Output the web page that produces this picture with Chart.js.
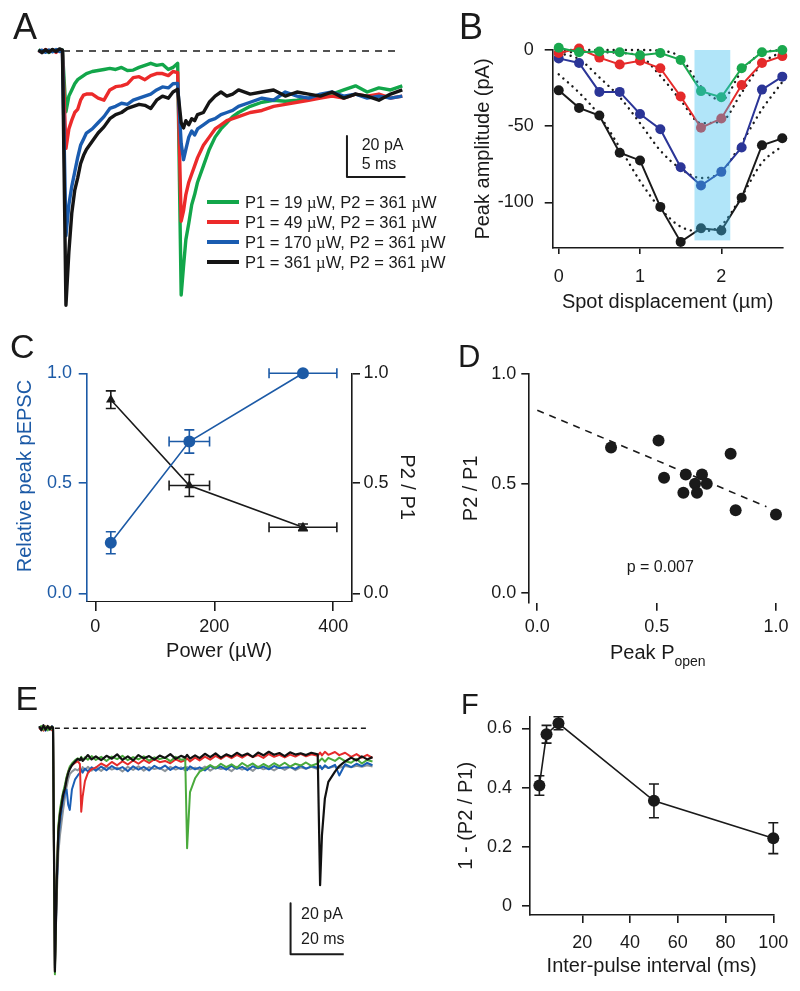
<!DOCTYPE html>
<html>
<head>
<meta charset="utf-8">
<script src="https://cdn.jsdelivr.net/npm/chart.js@4.4.1/dist/chart.umd.min.js"></script>
<style>
  html, body { margin: 0; padding: 0; background: #fff; }
  #page { position: relative; width: 800px; height: 991px; overflow: hidden;
          font-family: 'Liberation Sans', Arial, Helvetica, sans-serif; color: #1a1a1a; }
  #page canvas { position: absolute; left: 0; top: 0; }
  .txt { position: absolute; white-space: nowrap; line-height: 1; }
  .leg { position: absolute; left: 207px; width: 260px; height: 20px; }
  .leg > i { position: absolute; left: 0; top: 8.2px; width: 32px; height: 3.6px; }
  .leg > span { position: absolute; left: 38px; top: 1.9px; font-size: 16.5px; line-height: 1; white-space: nowrap; }
  .mu { font-family: 'Liberation Serif', 'Times New Roman', serif; }
</style>
</head>
<body>
<div id="page">
  <canvas id="cA" width="800" height="991"></canvas>
  <canvas id="cB" width="800" height="991"></canvas>
  <canvas id="cC" width="800" height="991"></canvas>
  <canvas id="cD" width="800" height="991"></canvas>
  <canvas id="cE" width="800" height="991"></canvas>
  <canvas id="cF" width="800" height="991"></canvas>

  <!-- panel letters -->
  <div class="txt" style="left:13px;top:8.6px;font-size:36px">A</div>
  <div class="txt" style="left:459px;top:8.6px;font-size:36px">B</div>
  <div class="txt" style="left:10px;top:329px;font-size:34px">C</div>
  <div class="txt" style="left:458px;top:341px;font-size:31px">D</div>
  <div class="txt" style="left:15.6px;top:680.6px;font-size:34px">E</div>
  <div class="txt" style="left:461px;top:689.5px;font-size:29px">F</div>

  <!-- A legend + scale bar text -->
  <div class="leg" style="top:192.3px"><i style="background:#12a64a"></i><span>P1 = 19 <span class="mu">µ</span>W, P2 = 361 <span class="mu">µ</span>W</span></div>
  <div class="leg" style="top:212.3px"><i style="background:#ec2a2a"></i><span>P1 = 49 <span class="mu">µ</span>W, P2 = 361 <span class="mu">µ</span>W</span></div>
  <div class="leg" style="top:232.3px"><i style="background:#1a5cb0"></i><span>P1 = 170 <span class="mu">µ</span>W, P2 = 361 <span class="mu">µ</span>W</span></div>
  <div class="leg" style="top:252.3px"><i style="background:#151515"></i><span>P1 = 361 <span class="mu">µ</span>W, P2 = 361 <span class="mu">µ</span>W</span></div>
  <div class="txt" style="left:361.7px;top:137.2px;font-size:16px">20 pA</div>
  <div class="txt" style="left:361.7px;top:155.5px;font-size:16px">5 ms</div>

  <!-- D annotations -->
  <div class="txt" style="left:626.7px;top:558.9px;font-size:16px">p = 0.007</div>
  <div class="txt" style="left:610px;top:641.9px;font-size:20px">Peak P<span style="font-size:14px;position:relative;top:7px">open</span></div>

  <!-- E scale bar text -->
  <div class="txt" style="left:301px;top:906.2px;font-size:16px">20 pA</div>
  <div class="txt" style="left:301px;top:930.5px;font-size:16px">20 ms</div>
</div>

<script>
/* ═══════════════════════════════════════════
   DATA
═══════════════════════════════════════════ */
// A: paired-pulse traces (time ms, current pA)
const aT = [-2.1, -1.8, -1.5, -1.2, -0.9, -0.6, -0.3, -0.05,
  0.25, 0.5, 0.75, 1, 1.25, 1.5, 1.75,
  2, 2.5, 3, 3.5, 4, 4.5, 5, 5.5, 6, 6.5, 7, 7.5, 8, 8.5, 9,
  9.4, 9.8,
  10.1, 10.3, 10.5, 10.75, 11, 11.25, 11.5,
  12, 12.5, 13, 13.5, 14, 14.5, 15,
  16, 17, 18, 19, 20, 21, 22, 23, 24, 25, 26, 27, 28, 29];
const aBlack = [0.5, -0.8, 0.6, -0.5, 0.8, -0.3, 1.0, 0.5,
  -124, -98, -79, -68, -62, -55, -51,
  -48, -44, -40, -37, -33, -31, -30, -28, -27, -26, -26.5, -28, -24, -22, -23,
  -20, -18.7,
  -35, -37.5, -34, -36, -33, -34, -31,
  -30, -25, -22, -20, -22, -21, -19,
  -21, -20, -19, -22, -20, -21, -22, -20, -23, -21, -22, -24, -21, -19];
const aBlue = [-0.3, 0.4, -0.6, 0.5, -0.4, 0.7, -0.2, 0.3,
  -90, -75, -66, -59, -52, -46, -43,
  -40, -38, -35, -32, -28, -27, -25.5, -26, -24, -23, -22, -21, -19, -17.5, -18,
  -16, -15.8,
  -45, -53, -48, -42, -39, -41, -38,
  -36, -34, -33, -31, -30, -29, -27,
  -25, -23, -24, -20, -22, -23, -21, -20, -22, -21, -23, -22, -23, -22];
const aRed = [0.2, -0.5, 0.7, -0.3, 0.4, -0.7, 0.6, 0.1,
  -47.5, -38, -33.7, -30, -28.5, -24, -21.5,
  -21, -21, -23, -24, -19, -17.4, -17, -16, -13, -12.5, -14, -12, -11, -11, -12,
  -10, -10.5,
  -83, -78, -70, -64, -60, -56, -52,
  -46, -42, -38, -36, -34, -33, -32,
  -30, -29, -27, -26, -25, -24, -23, -22, -23, -21, -22, -21, -23, -22];
const aGreen = [0.6, -0.4, 0.3, -0.7, 0.5, -0.2, 0.8, 0.4,
  -29.6, -22, -19, -16, -14, -13, -12,
  -11, -10, -9.5, -9, -8.5, -9, -8, -9.5, -9.3, -8, -7, -6, -7, -6.5, -9,
  -8, -6,
  -119, -105, -92, -84, -75, -70, -64,
  -56, -48, -42, -38, -35, -32, -30,
  -27, -25, -24, -24.5, -24, -23, -22, -21, -19, -17, -20, -18, -19, -17];
const aZeroT = [0, 28.5];
const aZeroI = [0, 0];
const aBarT = [24.27, 24.27, 29.27];     // 5 ms
const aBarI = [-41.5, -61.5, -61.5];     // 20 pA

// B: peak amplitude vs spot displacement
const bX = [0, 0.25, 0.5, 0.75, 1, 1.25, 1.5, 1.75, 2, 2.25, 2.5, 2.75];
const bGreen = [1.5, -1.5, -1, -1.5, -3.5, -2, -6.5, -27, -31, -12, -1.5, 0];
const bRed = [-2, 1, -5, -9.5, -7, -12, -30.5, -51, -45, -23, -8.5, -4];
const bBlue = [-5.5, -8.5, -27.5, -27.5, -42, -52, -77, -89, -80, -64, -26, -17.5];
const bBlack = [-26.5, -38, -43, -67.5, -72.5, -103, -126, -117, -118.5, -97, -62.5, -58];
const bFitGreen = [0, 0, 0, 0, 0, -0.5, -5, -24, -33, -14, -2, 0];
const bFitRed = [-1, -1.5, -1.5, -2, -4, -17, -33, -48, -47, -28, -9, -1];
const bFitBlue = [-2, -6, -18, -31, -48, -66, -78, -84, -80, -61, -39, -21];
const bFitBlack = [-16, -28, -43, -64, -86, -104, -116, -119, -115, -96, -74, -63];
const bShadeX = [1.67, 2.11];
const bShadeY = [0, -125];

// C: relative peak and P2/P1 vs power
const cPower = [26, 158, 349];
const cPowerErr = [0, 34, 57];
const cRel = [0.23, 0.69, 1.0];
const cRelErr = [0.05, 0.053, 0];
const cPPR = [0.88, 0.49, 0.30];
const cPPRErr = [0.04, 0.05, 0.015];

// D: P2/P1 vs peak Popen
const dPopen = [0.309, 0.508, 0.810, 0.531, 0.622, 0.690, 0.661, 0.710, 0.612, 0.669, 0.831, 1.0];
const dPPR = [0.665, 0.697, 0.636, 0.527, 0.542, 0.542, 0.50, 0.50, 0.459, 0.459, 0.379, 0.359];
const dFitX = [0, 0.96];
const dFitY = [0.835, 0.395];

// E: varying inter-pulse interval traces
const eT = [-5.3, -4.5, -3.7, -2.9, -2.1, -1.3, -0.5, -0.1,
  0.6, 1.3, 1.9, 2.5, 3.1, 3.7, 4.4, 5, 5.6, 6.2, 7, 8.2, 9.2, 10, 10.5, 11, 11.9, 13, 14.4,
  16, 18, 20, 22, 24, 26, 28, 30, 32, 34, 36, 38, 40, 42, 44, 46, 48,
  49.6, 50.3, 51.4, 53.3,
  55, 57, 59, 61, 63, 65, 67, 69, 71, 73, 75, 77, 79, 81, 83, 85, 87, 89, 91, 93, 95, 97,
  99.4, 100.3, 101, 102.1, 103.4, 105.9, 107.5, 109.7,
  112, 114, 116, 118, 120];
const eBlack = [0.8, -0.8, 1.2, -0.6, 0.9, -0.4, 0.7, 0.2,
  -95.4, -60, -40.5, -34, -30, -26, -23.5, -20, -17.6, -16, -14.5, -13, -12, -12.5, -11.5, -12.8, -11.8, -10.5, -12.2,
  -11, -12.5, -10.8, -11.9, -10.2, -12.4, -11, -12.6, -10.5, -11.8, -10.9, -12.3, -10.7, -11.6, -10.1, -12, -10.8,
  -11.5, -10.4, -11.9, -10.6,
  -11.7, -10, -11.3, -9.8, -11.5, -10.2, -11.1, -9.6, -10.8, -9.9, -11.2, -9.5, -10.6, -9.2, -10.4, -9.7, -10.9, -9.4, -10.3, -9.8, -10.5, -9.6,
  -10.2, -61.5, -42, -27.5, -21, -17, -14.8, -13,
  -11.5, -12.6, -11, -12.2, -11.3];
const eGreen = [0.3, 0.9, -0.5, 0.7, -0.8, 0.5, -0.3, 0.4,
  -96.5, -58, -38, -32, -28, -25, -22, -19, -17, -15, -13.8, -12.5, -11.8, -12.2, -11.2, -12.6, -11.4, -12.3, -10.9,
  -12.4, -11.2, -12.8, -11.1, -12.1, -10.8, -12.5, -11.3, -12.2, -11, -12.7, -11.4, -12.1, -11.5, -12.9, -11.2, -12.3,
  -12, -47, -25, -19.6,
  -17, -15.8, -14.4, -15.6, -13.9, -15.2, -14.1, -15.5, -13.6, -14.9, -13.8, -15.3, -14, -15.1, -13.7, -14.8, -13.5, -15, -13.9, -14.6, -13.4, -14.7,
  -13.8, -12.5, -11.8, -13.1, -11.6, -12.8, -11.5, -12.9,
  -13.5, -12, -13.8, -12.4, -13];
const eRed = [-0.4, 0.6, -0.9, 0.8, -0.3, 0.6, -0.7, 0.1,
  -95, -59, -39, -33, -29, -25.5, -23, -19.5, -17, -15.5, -14.5, -13.5, -13, -14, -32.7, -27, -20.7, -17.5, -16,
  -15.4, -13.8, -14.9, -13.2, -14.5, -12.9, -14.2, -12.6, -13.9, -12.4, -13.6, -12.1, -13.3, -12.8, -13.7, -12.2, -13.1,
  -12.5, -11.8, -13, -11.5,
  -12.6, -11.1, -12.3, -10.8, -12, -10.6, -11.7, -10.4, -11.5, -10.2, -11.3, -10.5, -11.6, -10.1, -11.2, -10.4, -11.4, -10.3, -11.1, -10, -11, -10.2,
  -10.8, -9.5, -10.6, -9.2, -10.4, -9.3, -10.5, -9.6,
  -11.2, -10.1, -11.5, -10.4, -11.6];
const eBlue = [0.5, -0.6, 0.4, -0.9, 0.7, -0.2, 0.8, -0.3,
  -94, -62, -44, -37, -32, -28, -25, -24, -30, -32, -24, -20, -18.5, -17.5, -16.2, -17.4, -15.8, -16.9, -15.3,
  -16.6, -15, -16.4, -14.8, -16.1, -15.2, -16.8, -14.9, -16.2, -15.1, -16.5, -14.7, -15.9, -14.6, -16.3, -15, -16,
  -15.2, -16.4, -14.9, -16.1,
  -15.3, -16.5, -14.8, -15.8, -15, -16.2, -14.7, -15.9, -15.1, -16.4, -14.9, -15.7, -15, -16.1, -14.8, -15.6, -15.4, -15.2, -15.9, -14.6, -15.8, -14.9,
  -15.5, -14.7, -16, -14.5, -15.6, -14.3, -18.5, -14.1,
  -15.2, -13.9, -14.8, -13.6, -14.5];
const eGrey = [0.2, -0.5, 0.6, -0.3, 0.5, -0.6, 0.3, 0,
  -93, -66, -49, -42, -37, -32, -27, -23, -20, -18, -17, -16, -16.5, -15.5, -16.8, -15.2, -16.4, -15.1, -16.6,
  -15.3, -16.7, -15, -16.2, -15.4, -16.9, -15.1, -16.3, -14.9, -16.6, -15.2, -16, -15.5, -16.8, -15.1, -16.2, -15.3,
  -16.5, -15.2, -16.1, -15.4,
  -16.3, -15, -16.6, -15.2, -16, -15.5, -16.8, -15.1, -16.2, -15.3, -16.7, -15, -16.1, -15.4, -16.5, -15.2, -16.3, -15, -16.4, -15.3, -15.9, -15.1,
  -16, -15.2, -15.8, -15, -15.6, -14.9, -15.5, -14.8,
  -15.3, -14.7, -15.1, -14.5, -15];
const eZeroT = [0.6, 118.3];
const eZeroI = [0, 0];
const eBarT = [89.2, 89.2, 109.2];     // 20 ms
const eBarI = [-68.6, -88.6, -88.6];   // 20 pA

// F: 1 - P2/P1 vs inter-pulse interval
const fIPI = [2, 5, 10, 50, 100];
const fVal = [0.407, 0.58, 0.617, 0.355, 0.229];
const fErr = [0.033, 0.03, 0.022, 0.057, 0.052];

/* ═══════════════════════════════════════════
   DEFAULTS / HELPERS
═══════════════════════════════════════════ */
const INK = '#1a1a1a';
const CBLUE = '#1c5aa6';
Chart.defaults.font.family = "'Liberation Sans', Arial, Helvetica, sans-serif";
Chart.defaults.color = INK;
Chart.defaults.animation = false;
Chart.defaults.responsive = false;
Chart.defaults.devicePixelRatio = 1;
Chart.defaults.plugins.legend.display = false;
Chart.defaults.plugins.tooltip.enabled = false;

function series(xs, ys) {
  return xs.map((x, k) => ({ x, y: ys[k] }));
}

function hidden(min, max) {
  return { type: 'linear', display: false, min, max };
}

// Igor-style axis: line, outside ticks, no grid, fixed box size
function axis(o) {
  const col = o.color || INK;
  return {
    type: 'linear', position: o.position, min: o.min, max: o.max, bounds: 'data',
    afterBuildTicks: s => { s.ticks = o.ticks.map(v => ({ value: v })); },
    afterFit: s => { if (s.isHorizontal()) s.height = o.size; else s.width = o.size; },
    border: { display: o.border !== false, color: col, width: o.borderWidth || 1.6 },
    grid: { drawOnChartArea: false, drawTicks: true, tickLength: o.tickLen, lineWidth: 1.6, color: col },
    ticks: { autoSkip: false, maxRotation: 0, padding: o.pad, color: col, font: { size: 18 },
             callback: (v, i) => o.labels[i] },
    title: o.title ? { display: true, text: o.title, color: col, font: { size: 20 }, padding: 0 }
                   : { display: false }
  };
}

function trace(xs, ys, color, width, order) {
  return { data: series(xs, ys), borderColor: color, borderWidth: width, pointRadius: 0,
           borderJoinStyle: 'round', order, clip: false };
}

// error bars drawn beneath the markers, through the chart's scales
const errorBars = {
  id: 'errorBars',
  beforeDatasetsDraw(chart) {
    const { ctx } = chart;
    chart.data.datasets.forEach((ds, i) => {
      if (!ds.errY && !ds.errX) return;
      const meta = chart.getDatasetMeta(i);
      const xs = chart.scales[meta.xAxisID], ys = chart.scales[meta.yAxisID];
      const cap = ds.capHalf || 5;
      ctx.save();
      ctx.strokeStyle = ds.borderColor;
      ctx.lineWidth = 1.6;
      ds.data.forEach((p, k) => {
        const px = xs.getPixelForValue(p.x), py = ys.getPixelForValue(p.y);
        const ey = ds.errY ? ds.errY[k] : 0, ex = ds.errX ? ds.errX[k] : 0;
        ctx.beginPath();
        if (ey) {
          const y1 = ys.getPixelForValue(p.y + ey), y2 = ys.getPixelForValue(p.y - ey);
          ctx.moveTo(px, y1); ctx.lineTo(px, y2);
          ctx.moveTo(px - cap, y1); ctx.lineTo(px + cap, y1);
          ctx.moveTo(px - cap, y2); ctx.lineTo(px + cap, y2);
        }
        if (ex) {
          const x1 = xs.getPixelForValue(p.x - ex), x2 = xs.getPixelForValue(p.x + ex);
          ctx.moveTo(x1, py); ctx.lineTo(x2, py);
          ctx.moveTo(x1, py - cap); ctx.lineTo(x1, py + cap);
          ctx.moveTo(x2, py - cap); ctx.lineTo(x2, py + cap);
        }
        ctx.stroke();
      });
      ctx.restore();
    });
  }
};

// translucent band over panel B
const band = {
  id: 'band',
  afterDatasetsDraw(chart) {
    const { ctx, scales: { x, y } } = chart;
    const x0 = x.getPixelForValue(bShadeX[0]), x1 = x.getPixelForValue(bShadeX[1]);
    const y0 = y.getPixelForValue(bShadeY[0]), y1 = y.getPixelForValue(bShadeY[1]);
    ctx.save();
    ctx.fillStyle = 'rgba(60,190,240,0.4)';
    ctx.fillRect(x0, y0, x1 - x0, y1 - y0);
    ctx.restore();
  }
};

/* ═══════════════════════════════════════════
   A — paired pulses at different P1
═══════════════════════════════════════════ */
new Chart(document.getElementById('cA'), {
  type: 'line',
  data: { datasets: [
    trace(aBarT, aBarI, INK, 2, 0),
    trace(aT, aBlack, '#151515', 3.4, 1),
    trace(aT, aBlue, '#1a5cb0', 3.4, 2),
    trace(aT, aRed, '#ec2a2a', 3.4, 3),
    trace(aT, aGreen, '#12a64a', 3.4, 4),
    { ...trace(aZeroT, aZeroI, INK, 1.6, 5), borderDash: [7, 6] }
  ] },
  options: {
    layout: { padding: { left: 36, top: 40, right: 388, bottom: 679 } },
    scales: { x: hidden(-2.31, 29.83), y: hidden(-127.3, 5.37) }
  }
});

/* ═══════════════════════════════════════════
   B — spatial profile
═══════════════════════════════════════════ */
function bLine(ys, color, order) {
  return { data: series(bX, ys), borderColor: color, borderWidth: 2, pointRadius: 5,
           pointBackgroundColor: color, pointBorderWidth: 0, order, clip: false };
}
function bFit(ys) {
  return { data: series(bX, ys), borderColor: INK, borderWidth: 2.4, borderDash: [0.1, 6],
           borderCapStyle: 'round', cubicInterpolationMode: 'monotone', pointRadius: 0,
           order: 10, clip: false };
}
new Chart(document.getElementById('cB'), {
  type: 'line',
  data: { datasets: [
    bFit(bFitGreen), bFit(bFitRed), bFit(bFitBlue), bFit(bFitBlack),
    bLine(bGreen, '#1aa84e', 1), bLine(bRed, '#e52a2a', 2),
    bLine(bBlue, '#2b3597', 3), bLine(bBlack, '#1a1a1a', 4)
  ] },
  options: {
    layout: { padding: { left: 471, top: 50, right: 17.3, bottom: 677 } },
    scales: {
      x: axis({ position: 'bottom', min: -0.074, max: 2.755, ticks: [0, 1, 2], labels: ['0', '1', '2'],
                tickLen: 6, pad: 12.2, size: 66, title: 'Spot displacement (µm)' }),
      y: axis({ position: 'left', min: -130, max: 0, ticks: [-100, -50, 0], labels: ['-100', '-50', '0'],
                tickLen: 8, pad: 11, size: 81.7, title: 'Peak amplitude (pA)' })
    }
  },
  plugins: [band]
});

/* ═══════════════════════════════════════════
   C — power dependence
═══════════════════════════════════════════ */
new Chart(document.getElementById('cC'), {
  type: 'line',
  data: { datasets: [
    { data: series(cPower, cRel), errX: cPowerErr, errY: cRelErr, yAxisID: 'y',
      borderColor: CBLUE, borderWidth: 1.6, pointRadius: 6, pointBackgroundColor: CBLUE,
      pointBorderWidth: 0, clip: false, order: 1 },
    { data: series(cPower, cPPR), errX: cPowerErr, errY: cPPRErr, yAxisID: 'y2',
      borderColor: INK, borderWidth: 1.6, pointRadius: 5.5, pointStyle: 'triangle',
      pointBackgroundColor: INK, pointBorderWidth: 0, clip: false, order: 2 }
  ] },
  options: {
    layout: { padding: { left: 13, top: 373.3, right: 381, bottom: 328 } },
    scales: {
      x: axis({ position: 'bottom', min: -14.5, max: 430.6, ticks: [0, 200, 400], labels: ['0', '200', '400'],
                tickLen: 10, pad: 5.2, size: 62, title: 'Power (µW)', borderWidth: 1 }),
      // leading spaces nudge the rotated title up to where the original sits
      y: axis({ position: 'left', min: -0.035, max: 1, ticks: [0, 0.5, 1], labels: ['0.0', '0.5', '1.0'],
                tickLen: 8, pad: 6.6, size: 73.7, title: '    Relative peak pEPSC', color: CBLUE }),
      y2: axis({ position: 'right', min: -0.035, max: 1, ticks: [0, 0.5, 1], labels: ['0.0', '0.5', '1.0'],
                 tickLen: 8.5, pad: 3.5, size: 67.5, title: 'P2 / P1' })
    }
  },
  plugins: [errorBars]
});

/* ═══════════════════════════════════════════
   D — P2/P1 vs Popen
═══════════════════════════════════════════ */
new Chart(document.getElementById('cD'), {
  type: 'line',
  data: { datasets: [
    { data: series(dPopen, dPPR), showLine: false, pointRadius: 6, pointBackgroundColor: INK,
      pointBorderWidth: 0, clip: false, order: 1 },
    { data: series(dFitX, dFitY), borderColor: INK, borderWidth: 1.6, borderDash: [7, 6],
      pointRadius: 0, clip: false, order: 2 }
  ] },
  options: {
    layout: { padding: { left: 459.7, top: 374, right: 10, bottom: 348.3 } },
    scales: {
      x: axis({ position: 'bottom', min: -0.0377, max: 1.0587, ticks: [0, 0.5, 1], labels: ['0.0', '0.5', '1.0'],
                tickLen: 8, pad: 5.5, size: 40, border: false }),
      y: axis({ position: 'left', min: -0.0429, max: 1, ticks: [0, 0.5, 1], labels: ['0.0', '0.5', '1.0'],
                tickLen: 7, pad: 5, size: 68.6, title: 'P2 / P1' })
    }
  }
});

/* ═══════════════════════════════════════════
   E — interval series traces
═══════════════════════════════════════════ */
new Chart(document.getElementById('cE'), {
  type: 'line',
  data: { datasets: [
    trace(eBarT, eBarI, INK, 2, 0),
    trace(eT, eBlack, '#111111', 2.2, 1),
    trace(eT, eGreen, '#4aaa3c', 2, 2),
    trace(eT, eRed, '#e52b2b', 2, 3),
    trace(eT, eBlue, '#1b5fb5', 2, 4),
    trace(eT, eGrey, '#8c949a', 2, 5),
    { ...trace(eZeroT, eZeroI, INK, 1.6, 6), borderDash: [5, 4] }
  ] },
  options: {
    layout: { padding: { left: 37, top: 715, right: 424, bottom: 16 } },
    scales: { x: hidden(-6.13, 121.32), y: hidden(-96.75, 5.22) }
  }
});

/* ═══════════════════════════════════════════
   F — interval dependence
═══════════════════════════════════════════ */
new Chart(document.getElementById('cF'), {
  type: 'line',
  data: { datasets: [
    { data: series(fIPI, fVal), errY: fErr, borderColor: INK, borderWidth: 1.6, pointRadius: 6,
      pointBackgroundColor: INK, pointBorderWidth: 0, clip: false }
  ] },
  options: {
    layout: { padding: { left: 454.7, top: 716.7, right: 26.7, bottom: 12.3 } },
    scales: {
      x: axis({ position: 'bottom', min: -1.93, max: 100, ticks: [20, 40, 60, 80, 100],
                labels: ['20', '40', '60', '80', '100'], tickLen: 8, pad: 8.9, size: 63.7,
                title: 'Inter-pulse interval (ms)' }),
      y: axis({ position: 'left', min: -0.0304, max: 0.6392, ticks: [0, 0.2, 0.4, 0.6],
                labels: ['0', '0.2', '0.4', '0.6'], tickLen: 8, pad: 10, size: 75.3,
                title: '1 - (P2 / P1)' })
    }
  },
  plugins: [errorBars]
});
</script>
</body>
</html>
